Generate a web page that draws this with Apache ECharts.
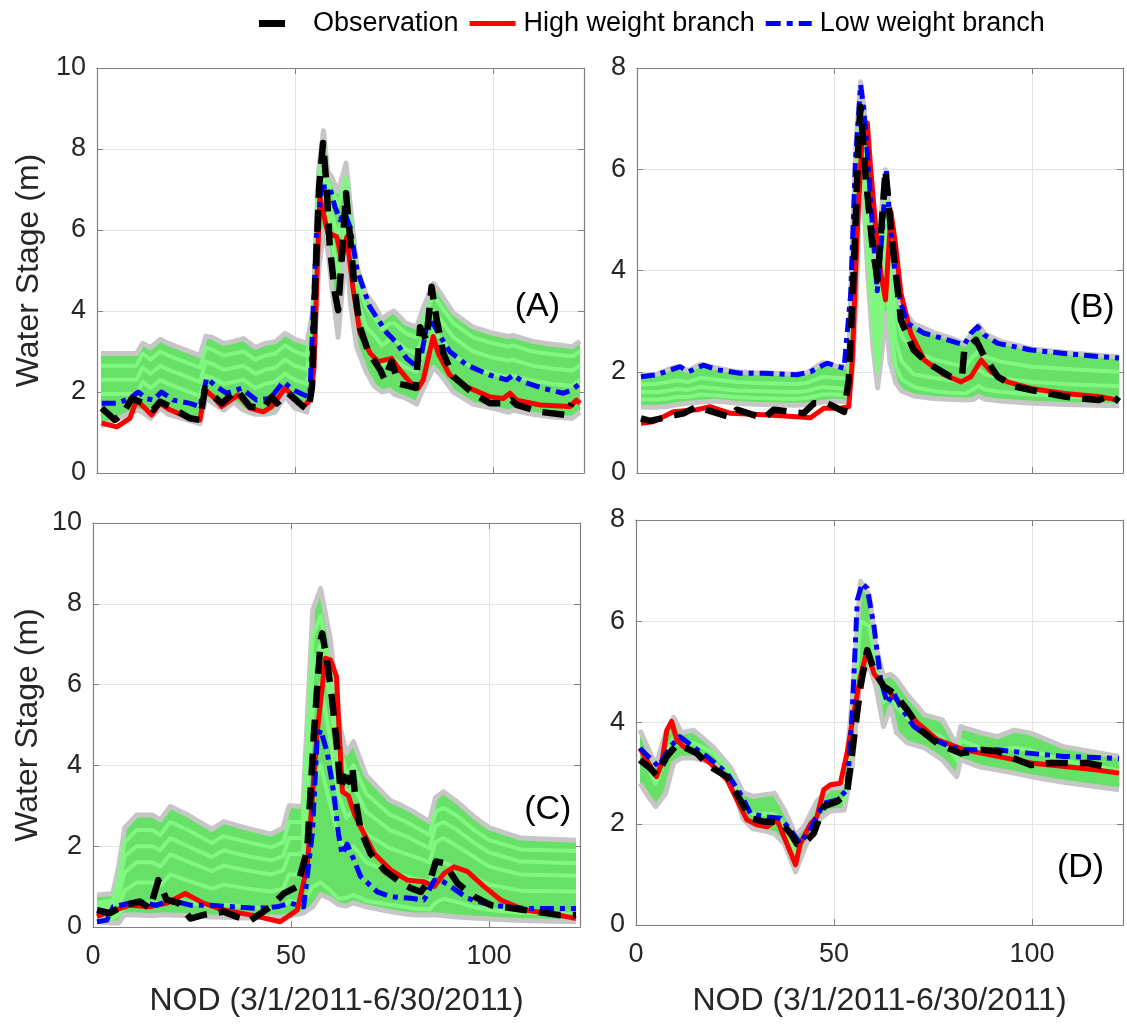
<!DOCTYPE html>
<html><head><meta charset="utf-8">
<script src="https://cdn.jsdelivr.net/npm/echarts@6/dist/echarts.min.js"></script>
<style>html,body{margin:0;padding:0;background:#fff}#c{width:1127px;height:1025px}</style>
</head><body><div id="c"></div>
<script>
// ---------- Panel A ----------
const bandXA = [1, 10, 11.5, 13.5, 16, 18, 26, 27.5, 29, 32, 34.5, 37, 40, 42.5, 45, 47.5, 50, 53, 54.5, 56, 57.2, 58.3, 59.3, 60.9, 62.9, 64, 65.6, 68, 70, 72, 74, 75, 78, 80.7, 82.5, 85, 87, 90, 95, 100, 104, 105, 110, 115, 120, 122];
const upperA = [2.95, 2.95, 3.2, 3.1, 3.3, 3.2, 2.9, 3.38, 3.35, 3.2, 3.25, 3.32, 3.1, 3.2, 3.24, 3.45, 3.3, 3.2, 4.0, 7.5, 8.45, 7.45, 7.3, 6.95, 7.65, 6.6, 5.1, 4.4, 4.15, 3.8, 3.95, 4.0, 3.7, 3.6, 4.1, 4.68, 4.4, 3.95, 3.6, 3.45, 3.37, 3.4, 3.25, 3.18, 3.12, 3.25];
const lowerA = [1.15, 1.55, 1.5, 1.35, 1.6, 1.45, 1.22, 1.85, 1.75, 1.55, 1.75, 1.55, 1.45, 1.45, 1.5, 1.9, 1.6, 1.5, 2.2, 5.0, 6.0, 5.5, 4.6, 3.35, 5.6, 4.2, 3.1, 2.5, 2.15, 2.0, 2.05, 1.95, 1.85, 1.7, 2.1, 2.6, 2.4, 2.0, 1.7, 1.6, 1.5, 1.55, 1.45, 1.38, 1.35, 1.5];
const ens1A = [2.65, 2.65, 2.95, 2.8, 3.0, 2.9, 2.6, 3.1, 3.05, 2.9, 2.95, 3.0, 2.8, 2.9, 2.95, 3.15, 3.0, 2.9, 3.8, 7.2, 8.1, 7.2, 7.0, 6.6, 7.3, 6.3, 4.8, 4.1, 3.85, 3.55, 3.7, 3.7, 3.45, 3.35, 3.8, 4.4, 4.1, 3.7, 3.35, 3.2, 3.12, 3.15, 3.0, 2.93, 2.88, 3.0];
const ens2A = [2.3, 2.3, 2.6, 2.45, 2.65, 2.55, 2.25, 2.75, 2.7, 2.55, 2.6, 2.65, 2.45, 2.55, 2.6, 2.8, 2.65, 2.55, 3.4, 6.6, 7.6, 6.8, 6.4, 5.8, 6.8, 5.7, 4.3, 3.6, 3.4, 3.15, 3.3, 3.3, 3.05, 2.95, 3.4, 4.0, 3.75, 3.35, 3.0, 2.85, 2.78, 2.8, 2.65, 2.58, 2.53, 2.65];
const ens3A = [1.95, 1.95, 2.25, 2.1, 2.3, 2.2, 1.9, 2.4, 2.35, 2.2, 2.25, 2.3, 2.1, 2.2, 2.25, 2.45, 2.3, 2.2, 2.9, 6.0, 7.0, 6.4, 5.8, 4.8, 6.3, 5.0, 3.8, 3.1, 2.85, 2.65, 2.8, 2.8, 2.6, 2.5, 2.95, 3.5, 3.3, 2.9, 2.6, 2.45, 2.38, 2.4, 2.28, 2.2, 2.15, 2.3];
const obsA = [[1.2,1.6],[4.5,1.31],[6.6,1.47],[8.8,1.84],[11.7,1.72],[14.2,1.56],[15.9,1.76],[18.4,1.64],[23.5,1.35],[26,1.31],[27.3,2.09],[31.5,1.72],[35.3,2.05],[38.6,1.64],[42,1.6],[44.1,1.88],[45.4,1.72],[48.3,1.97],[52.1,1.64],[53.4,1.56],[54.3,2.12],[55.1,4.6],[56.1,7.06],[57.1,8.15],[58,7.06],[58.8,5.58],[60.1,4.44],[60.9,4.02],[61.9,5.43],[62.9,6.91],[65.2,4.44],[66.4,3.6],[68.5,3.0],[71.5,2.55],[72.7,2.3],[74.4,2.75],[76.3,2.2],[77.8,2.17],[80.5,2.1],[81.6,3.6],[83.2,3.28],[84.5,4.6],[85.8,3.78],[87.5,2.95],[90,2.38],[95,1.97],[99.2,1.72],[103.5,1.72],[104.7,1.8],[106,1.68],[111.9,1.51],[118.6,1.43],[119.9,1.72]];
const highA = [[1.2,1.23],[5,1.14],[8.3,1.35],[10,1.8],[11.7,1.64],[13.8,1.43],[15.9,1.72],[18.4,1.56],[23.5,1.35],[26,1.31],[27.3,2.05],[29.4,1.88],[31.5,1.64],[35.7,1.93],[38.6,1.6],[42,1.51],[44.1,1.64],[47.5,2.09],[52.1,1.64],[53.8,1.8],[54.8,2.6],[55.6,5.0],[56.3,6.8],[58.3,5.93],[60.6,5.83],[61.8,5.26],[63.1,5.83],[64.6,4.6],[66.4,3.46],[69,2.96],[71,2.75],[74.4,2.83],[76.5,2.54],[79,2.25],[81.1,2.09],[82.4,2.3],[84.9,3.37],[86.2,2.95],[89.1,2.42],[93.3,2.13],[99.2,1.88],[102.6,1.84],[104.3,1.97],[106,1.8],[111.9,1.68],[119.4,1.64],[121.1,1.8],[122,1.72]];
const lowA = [[1.2,1.72],[5,1.72],[8.3,1.84],[10.4,2.0],[12.5,1.84],[14.2,1.8],[16.3,2.0],[19.3,1.8],[23.5,1.72],[26,1.64],[27.7,2.34],[30.2,2.13],[32.7,1.97],[36.5,2.09],[40.3,1.8],[43.7,1.84],[47.1,2.25],[49.6,2.05],[53.4,1.88],[53.8,1.95],[54.5,3.78],[55.5,6.0],[56.8,7.06],[58.8,7.06],[60.1,6.57],[61.4,6.25],[62.6,6.42],[63.9,6.07],[65.7,5.01],[68.9,4.1],[73.2,3.46],[75.8,3.2],[78.2,2.83],[80.7,2.63],[82,2.95],[83.2,3.6],[84.9,3.7],[86.2,3.45],[89.1,3.0],[93.3,2.67],[99.2,2.42],[103.5,2.3],[105.1,2.42],[107.7,2.25],[112.7,2.09],[117.8,1.97],[119.9,2.05],[122,2.21]];

// ---------- Panel B ----------
const bandXB = [1, 5, 8, 10, 13, 16, 20, 25, 30, 35, 40, 43, 47, 50, 53.5, 54.5, 55.5, 56.6, 57.5, 58.5, 59.7, 60.9, 62, 62.9, 64, 65.5, 67, 70, 75, 80, 83, 85, 86.5, 88, 92, 100, 110, 122];
const upperB = [1.92, 1.95, 2.05, 2.1, 2.02, 2.15, 2.08, 2.0, 1.98, 1.97, 1.95, 1.98, 2.18, 2.12, 2.1, 4.5, 6.6, 7.73, 7.2, 6.1, 4.9, 3.9, 5.3, 5.99, 5.0, 3.9, 3.25, 2.95, 2.78, 2.65, 2.55, 2.8, 2.92, 2.75, 2.6, 2.45, 2.37, 2.29];
const lowerB = [1.3, 1.3, 1.32, 1.35, 1.38, 1.4, 1.42, 1.38, 1.36, 1.35, 1.34, 1.35, 1.4, 1.42, 1.4, 2.0, 3.4, 6.2, 5.2, 3.8, 2.5, 1.68, 2.4, 3.16, 2.2, 1.78, 1.62, 1.52, 1.47, 1.45, 1.44, 1.45, 1.52, 1.46, 1.42, 1.38, 1.35, 1.33];
const ens1B = [1.75, 1.76, 1.8, 1.83, 1.8, 1.88, 1.84, 1.8, 1.78, 1.77, 1.76, 1.78, 1.9, 1.88, 1.86, 3.0, 5.5, 7.3, 6.6, 5.3, 4.0, 3.0, 4.6, 5.5, 4.3, 3.2, 2.7, 2.4, 2.25, 2.15, 2.1, 2.3, 2.4, 2.3, 2.2, 2.1, 2.05, 2.0];
const ens2B = [1.6, 1.6, 1.63, 1.66, 1.64, 1.7, 1.67, 1.63, 1.62, 1.61, 1.6, 1.62, 1.7, 1.68, 1.66, 2.6, 4.8, 6.9, 6.0, 4.7, 3.4, 2.4, 3.8, 4.8, 3.6, 2.6, 2.2, 1.95, 1.88, 1.82, 1.8, 1.95, 2.05, 1.95, 1.87, 1.8, 1.75, 1.72];
const ens3B = [1.45, 1.45, 1.47, 1.5, 1.5, 1.55, 1.53, 1.5, 1.48, 1.47, 1.46, 1.48, 1.55, 1.55, 1.53, 2.3, 4.1, 6.5, 5.6, 4.2, 2.9, 2.0, 3.1, 4.0, 2.9, 2.1, 1.85, 1.7, 1.62, 1.58, 1.57, 1.65, 1.72, 1.65, 1.6, 1.55, 1.5, 1.48];
const obsB = [[1,1.08],[3.3,1.03],[11.8,1.18],[15.1,1.31],[23.6,1.1],[25.3,1.25],[32.1,1.08],[34.6,1.25],[42.2,1.18],[44.8,1.38],[48.1,1.38],[52.4,1.21],[53.6,1.84],[54.9,4.08],[56.2,6.84],[56.6,7.23],[57.9,5.85],[59.6,4.47],[60.9,3.81],[62.9,5.99],[64.2,4.86],[65.5,3.95],[66.8,3.02],[70,2.43],[73.6,2.17],[79.4,1.9],[82.3,1.95],[82.8,2.4],[85.8,2.63],[87.9,2.3],[91.3,1.9],[95.5,1.71],[99.7,1.64],[108.2,1.51],[116.7,1.44],[120,1.54],[122,1.41]];
const highB = [[1,0.98],[4.1,1.01],[9.2,1.21],[15.1,1.25],[18.5,1.31],[23.6,1.18],[32.1,1.15],[40.5,1.11],[43.9,1.09],[47.3,1.28],[51.5,1.28],[53.6,1.31],[54.5,2.23],[55.8,4.87],[57,6.65],[58.3,6.91],[59.1,6.05],[60.4,4.87],[61.7,3.95],[62.9,3.42],[63.6,4.3],[64.3,5.15],[65.5,4.47],[66.8,3.55],[69.3,2.76],[72.7,2.23],[77.7,1.94],[82,1.8],[84.5,1.9],[87.1,2.23],[89.6,2.0],[93.8,1.8],[99.7,1.67],[108.2,1.57],[116.7,1.51],[122,1.44]];
const lowB = [[1,1.9],[5,1.94],[10.9,2.1],[13,2.0],[16.8,2.13],[20.2,2.04],[26.1,1.97],[32.1,1.97],[40.5,1.94],[43.9,2.0],[48.1,2.17],[52.4,2.07],[54.1,3.55],[55.3,6.19],[56.6,7.67],[57.4,7.17],[58.3,6.32],[59.6,4.87],[60.8,3.6],[62.1,4.8],[63.1,6.0],[64,5.0],[65.1,4.1],[66.8,3.35],[68.4,2.96],[72.7,2.76],[78.6,2.63],[82.8,2.53],[84.5,2.76],[86.2,2.89],[87.9,2.73],[91.3,2.56],[99.7,2.43],[108.2,2.36],[116.7,2.3],[122,2.27]];

// ---------- Panel C ----------
const bandXC = [1, 5, 6.5, 8, 11, 15, 17, 19.5, 24, 30, 33, 39, 45, 48, 49.5, 53, 55.5, 57.5, 60, 62, 64, 65.8, 69, 75, 78.5, 81, 85, 86.5, 88.5, 92, 96, 100, 108, 122];
const upperC = [0.79, 0.83, 1.5, 2.45, 2.77, 2.77, 2.65, 2.98, 2.77, 2.42, 2.61, 2.44, 2.3, 2.45, 3.0, 2.98, 7.85, 8.38, 7.1, 5.12, 4.3, 4.59, 3.75, 3.14, 2.98, 2.85, 2.61, 3.2, 3.35, 3.1, 2.75, 2.46, 2.2, 2.15];
const lowerC = [0.13, 0.1, 0.1, 0.3, 0.3, 0.28, 0.3, 0.3, 0.28, 0.25, 0.24, 0.22, 0.25, 0.25, 0.28, 0.34, 0.5, 0.8, 0.7, 0.55, 0.52, 0.6, 0.5, 0.38, 0.33, 0.3, 0.3, 0.3, 0.28, 0.25, 0.22, 0.2, 0.16, 0.13];
const ens1C = [0.6, 0.65, 1.2, 2.1, 2.4, 2.4, 2.28, 2.6, 2.4, 2.08, 2.25, 2.1, 1.97, 2.1, 2.6, 2.6, 7.2, 7.7, 6.3, 4.6, 3.8, 4.0, 3.3, 2.78, 2.63, 2.5, 2.28, 2.85, 2.95, 2.75, 2.42, 2.15, 1.92, 1.88];
const ens2C = [0.5, 0.55, 1.0, 1.75, 2.0, 2.0, 1.9, 2.2, 2.0, 1.73, 1.9, 1.75, 1.65, 1.75, 2.2, 2.2, 6.4, 7.0, 5.6, 4.0, 3.3, 3.5, 2.85, 2.4, 2.27, 2.15, 1.95, 2.5, 2.6, 2.4, 2.1, 1.85, 1.62, 1.58];
const ens3C = [0.4, 0.45, 0.8, 1.35, 1.6, 1.6, 1.5, 1.8, 1.62, 1.38, 1.52, 1.4, 1.3, 1.4, 1.8, 1.8, 5.4, 6.0, 4.6, 3.3, 2.7, 2.9, 2.3, 1.95, 1.83, 1.75, 1.6, 2.1, 2.2, 2.0, 1.75, 1.5, 1.3, 1.27];
const ens4C = [0.3, 0.3, 0.5, 0.9, 1.1, 1.1, 1.02, 1.3, 1.15, 0.95, 1.05, 0.95, 0.88, 0.95, 1.3, 1.3, 3.5, 4.0, 3.0, 2.2, 1.9, 2.0, 1.6, 1.35, 1.28, 1.2, 1.12, 1.5, 1.6, 1.45, 1.25, 1.05, 0.9, 0.88];
const ens5C = [0.2, 0.2, 0.3, 0.5, 0.6, 0.6, 0.55, 0.7, 0.62, 0.5, 0.55, 0.5, 0.45, 0.5, 0.65, 0.6, 1.0, 1.1, 0.9, 0.7, 0.72, 0.8, 0.65, 0.55, 0.5, 0.46, 0.44, 0.6, 0.7, 0.62, 0.5, 0.42, 0.35, 0.32];
const obsC = [[1,0.42],[4.3,0.34],[7.7,0.54],[11.9,0.63],[14.4,0.46],[16.5,1.16],[18.6,0.67],[21.5,0.6],[24.6,0.21],[27.9,0.3],[33,0.38],[36.4,0.25],[39.7,0.16],[44.8,0.5],[48.2,0.83],[51.6,1.0],[54.1,1.9],[55.8,4.79],[57.5,7.1],[57.9,7.27],[59.2,6.53],[60.4,5.62],[61.7,4.38],[62.5,3.39],[63.4,3.72],[64.6,3.6],[65.5,3.97],[66.3,3.14],[67.6,2.4],[70.1,1.82],[73.5,1.41],[76.9,1.16],[80.3,0.96],[82.8,0.87],[85.3,1.2],[86.6,1.62],[88.7,1.58],[92.1,1.08],[96.3,0.75],[100.5,0.54],[109,0.42],[117.4,0.3],[122,0.3]];
const highC = [[1,0.26],[4.3,0.38],[9.4,0.54],[14.4,0.5],[18.6,0.59],[23.3,0.83],[27.9,0.59],[33,0.42],[39.7,0.3],[47.3,0.13],[51.6,0.42],[54.1,1.49],[56.6,4.79],[58.7,6.65],[60,6.61],[61.5,6.2],[62.3,4.6],[63,3.35],[64.5,3.25],[66,2.8],[67.6,2.48],[71,1.82],[75.2,1.41],[79.4,1.16],[83.6,1.12],[86.2,1.0],[88.7,1.33],[91.2,1.49],[94.6,1.37],[98.8,1.0],[103,0.67],[109,0.42],[117.4,0.3],[122,0.21]];
const lowC = [[1,0.13],[3.5,0.17],[5.1,0.5],[11.1,0.63],[16.1,0.54],[19.5,0.67],[24.6,0.54],[29.6,0.54],[35.5,0.5],[41.4,0.46],[46.5,0.5],[49.9,0.59],[53.2,0.5],[55.4,2.32],[56.6,4.63],[57.5,4.88],[59.2,4.3],[60.8,3.31],[62,2.3],[62.9,1.8],[64.2,2.05],[65.9,1.66],[67.6,1.25],[71.8,0.87],[75.2,0.75],[80.3,0.71],[83.6,0.67],[86.2,1.16],[87.8,1.16],[90.4,1.0],[94.6,0.71],[100.5,0.54],[109,0.46],[122,0.46]];

// ---------- Panel D ----------
const bandXD = [1, 3, 5, 7.5, 9.5, 11.5, 14.5, 19.5, 24, 27, 29.5, 33, 35, 37.5, 40.3, 42.5, 45.7, 49, 52.6, 54.6, 56.7, 59, 60.6, 62.5, 64.3, 65.8, 68.5, 72.9, 77.4, 81, 82, 87, 91.3, 95.5, 99.7, 108, 122];
const upperD = [3.85, 3.5, 3.15, 3.8, 4.1, 3.8, 3.85, 3.52, 3.1, 2.62, 2.54, 2.58, 2.6, 2.27, 1.78, 1.95, 2.45, 2.7, 2.72, 4.45, 6.79, 6.5, 5.5, 4.91, 4.95, 4.85, 4.55, 4.15, 4.05, 3.55, 3.92, 3.8, 3.72, 3.85, 3.79, 3.52, 3.33];
const lowerD = [2.8, 2.55, 2.34, 2.6, 3.2, 3.3, 3.3, 3.2, 2.85, 2.1, 1.9, 1.85, 1.8, 1.6, 1.05, 1.5, 2.05, 2.25, 2.27, 3.13, 4.97, 5.1, 4.71, 3.92, 4.31, 3.8, 3.6, 3.5, 3.26, 2.93, 3.26, 3.12, 3.06, 3.0, 2.93, 2.82, 2.67];
const ens1D = [3.5, 3.1, 2.8, 3.3, 3.7, 3.6, 3.6, 3.4, 3.0, 2.4, 2.2, 2.2, 2.2, 1.95, 1.4, 1.75, 2.25, 2.45, 2.45, 3.8, 6.0, 5.9, 5.1, 4.4, 4.6, 4.3, 4.1, 3.85, 3.7, 3.25, 3.65, 3.5, 3.45, 3.5, 3.45, 3.25, 3.05];
const obsD = [[1,3.26],[3.5,3.1],[5.2,2.96],[7.8,3.33],[10.3,3.56],[12.8,3.49],[15.4,3.39],[18.7,3.13],[23,2.93],[26.3,2.47],[28.9,2.11],[32.2,2.04],[36.5,2.04],[39,1.81],[40.7,1.6],[42.4,1.61],[44.9,1.81],[47.4,2.34],[50.8,2.44],[53.3,2.6],[55,3.66],[56.7,4.71],[58.4,5.43],[60.1,5.04],[62.6,4.71],[65.1,4.58],[68.5,4.25],[71.9,3.85],[76.1,3.59],[82,3.39],[87.1,3.46],[91.3,3.43],[95.5,3.29],[99.7,3.16],[104.8,3.2],[108.2,3.2],[114.1,3.2],[120,3.1]];
const highD = [[1,3.49],[3.1,3.2],[5.2,2.93],[6.5,3.2],[7.8,3.85],[9,4.02],[10.3,3.66],[12,3.52],[15.4,3.39],[18.7,3.2],[23,2.87],[25.5,2.47],[28,2.08],[30.5,1.98],[33.1,1.94],[35.6,2.08],[38.1,1.61],[40.3,1.19],[41.5,1.61],[44.1,2.0],[45.7,2.14],[47.4,2.67],[49.1,2.77],[51.6,2.8],[53.3,3.39],[55,4.18],[56.7,4.91],[58.4,5.43],[60.1,4.97],[62.6,4.71],[65.1,4.51],[67.7,4.31],[71.1,3.99],[76.1,3.66],[82.9,3.46],[91.3,3.33],[99.7,3.2],[108.2,3.13],[116.6,3.06],[122,3.0]];
const lowD = [[1,3.49],[3.1,3.33],[5.7,3.13],[8.6,3.52],[11.1,3.72],[14.5,3.52],[17.9,3.33],[23,3.0],[26.3,2.6],[28.9,2.21],[32.2,2.14],[36.5,2.11],[39,1.88],[41.5,1.61],[44.1,1.91],[47.4,2.4],[50.8,2.47],[53.3,2.67],[54.6,4.18],[55.9,6.42],[57.1,6.75],[58.4,6.65],[60.1,5.9],[61.8,4.84],[63.5,4.38],[65.1,4.58],[66.8,4.31],[70.2,3.92],[74.4,3.69],[79.5,3.52],[82.9,3.46],[91.3,3.46],[99.7,3.39],[108.2,3.33],[122,3.29]];

// ---------- labels ----------
const legendNames = ['Observation', 'High weight branch', 'Low weight branch'];
const xTitle = 'NOD (3/1/2011-6/30/2011)';
const yTitle = 'Water Stage (m)';
const xTicks = [0, 50, 100];
const yTicksA = [0, 2, 4, 6, 8, 10];
const yTicksB = [0, 2, 4, 6, 8];
const panelTags = ['(A)', '(B)', '(C)', '(D)'];
const tagAt = [[105.5, 4.1], [109.4, 3.26], [108.9, 2.9], [106.3, 1.13]];

const FONT = '"Liberation Sans", Arial, Helvetica, sans-serif';
const GREEN = '#66e066', LIGHT = '#80f880', GRAY = '#c6c6c6';
const AXC = '#808080', TXT = '#262626';

const panels = [
  {grid:{left:97, top:68, width:487, height:405}, ymax:10, bx:bandXA, up:upperA, lo:lowerA, ens:[ens1A,ens2A,ens3A], obs:obsA, high:highA, low:lowA, xName:false, yName:true, yGap:52},
  {grid:{left:637, top:68, width:486, height:405}, ymax:8, bx:bandXB, up:upperB, lo:lowerB, ens:[ens1B,ens2B,ens3B], obs:obsB, high:highB, low:lowB, xName:false, yName:false},
  {grid:{left:93, top:523, width:487, height:404}, ymax:10, bx:bandXC, up:upperC, lo:lowerC, ens:[ens1C,ens2C,ens3C,ens4C,ens5C], obs:obsC, high:highC, low:lowC, xName:true, yName:true, yGap:49, xGap:58},
  {grid:{left:636, top:520, width:487, height:405}, ymax:8, bx:bandXD, up:upperD, lo:lowerD, ens:[ens1D], obs:obsD, high:highD, low:lowD, xName:true, yName:false, xGap:60}
];

const grids = [], xAxes = [], yAxes = [], series = [];
panels.forEach((p, i) => {
  grids.push(Object.assign({containLabel:false}, p.grid));
  const yt = p.ymax === 10 ? yTicksA : yTicksB;
  const tick = {show:true, inside:true, length:6, lineStyle:{color:AXC, width:1}};
  const line = {show:true, onZero:false, lineStyle:{color:AXC, width:1.2}};
  xAxes.push({gridIndex:i, type:'value', min:0, max:123, interval:50, position:'bottom',
    axisLine:line, axisTick:tick,
    axisLabel:{show:p.xName, fontSize:27, fontFamily:FONT, color:TXT, margin:16,
      formatter:v => xTicks.indexOf(v) >= 0 ? String(v) : ''},
    splitLine:{show:true, lineStyle:{color:'#e4e4e4', width:1}},
    name:p.xName ? xTitle : '', nameLocation:'middle', nameGap:p.xGap || 50,
    nameTextStyle:{fontSize:32, fontFamily:FONT, color:TXT}});
  xAxes.push({gridIndex:i, type:'value', min:0, max:123, interval:50, position:'top',
    axisLine:line, axisTick:tick, axisLabel:{show:false}, splitLine:{show:false}});
  yAxes.push({gridIndex:i, type:'value', min:0, max:p.ymax, interval:2, position:'left',
    axisLine:line, axisTick:tick,
    axisLabel:{show:true, fontSize:27, fontFamily:FONT, color:TXT, margin:11,
      formatter:v => yt.indexOf(v) >= 0 ? String(v) : ''},
    splitLine:{show:true, lineStyle:{color:'#e4e4e4', width:1}},
    name:p.yName ? yTitle : '', nameLocation:'middle', nameGap:p.yGap || 50, nameRotate:90,
    nameTextStyle:{fontSize:32, fontFamily:FONT, color:TXT}});
  yAxes.push({gridIndex:i, type:'value', min:0, max:p.ymax, interval:2, position:'right',
    axisLine:line, axisTick:tick, axisLabel:{show:false}, splitLine:{show:false}});

  const ax = {xAxisIndex:2*i, yAxisIndex:2*i, symbol:'none', silent:true, animation:false};
  // ensemble envelope polygon, placed through the axes' scales
  series.push({type:'custom', xAxisIndex:2*i, yAxisIndex:2*i, silent:true, z:1,
    data:p.bx.map((x, k) => [x, p.lo[k], p.up[k]]),
    encode:{x:0, y:[1, 2]},
    renderItem:(params, api) => {
      if (params.dataIndex !== 0) return null;
      const top = p.bx.map((x, k) => api.coord([x, p.up[k]]));
      const bot = p.bx.map((x, k) => api.coord([x, p.lo[k]])).reverse();
      return {type:'polygon', shape:{points:top.concat(bot)}, style:{fill:GREEN}};
    }});
  series.push(Object.assign({type:'line', data:p.bx.map((x, k) => [x, p.up[k]]),
    lineStyle:{color:GRAY, width:5, join:'round'}, z:2}, ax));
  series.push(Object.assign({type:'line', data:p.bx.map((x, k) => [x, p.lo[k]]),
    lineStyle:{color:GRAY, width:5, join:'round'}, z:2}, ax));
  p.ens.forEach(e => series.push(Object.assign({type:'line', data:p.bx.map((x, k) => [x, e[k]]),
    lineStyle:{color:LIGHT, width:4, join:'round'}, z:2}, ax)));
  series.push(Object.assign({type:'line', name:legendNames[1], data:p.high, itemStyle:{color:'#ff0000'},
    lineStyle:{color:'#ff0000', width:5, join:'round'}, z:3}, ax));
  series.push(Object.assign({type:'line', name:legendNames[2], data:p.low, itemStyle:{color:'#0000ff'},
    lineStyle:{color:'#0000ff', width:5, type:[14, 6, 5, 6], join:'round'}, z:4}, ax));
  series.push(Object.assign({type:'line', name:legendNames[0], data:p.obs, itemStyle:{color:'#000000'},
    lineStyle:{color:'#000000', width:6.5, type:[22, 12], join:'round'}, z:5}, ax));
  series.push({type:'scatter', xAxisIndex:2*i, yAxisIndex:2*i, data:[tagAt[i]], symbolSize:0.1,
    itemStyle:{color:'#ffffff', opacity:1}, silent:true, z:6, animation:false,
    label:{show:true, position:'right', distance:0, formatter:panelTags[i], fontSize:34, fontFamily:FONT, color:'#000000', opacity:1}});
});

const chart = echarts.init(document.getElementById('c'), null, {renderer:'canvas'});
chart.setOption({
  animation:false,
  backgroundColor:'#ffffff',
  textStyle:{fontFamily:FONT},
  legend:{top:5, left:254, itemWidth:46, itemHeight:7, itemGap:11, selectedMode:false,
    textStyle:{fontSize:27, fontFamily:FONT, color:'#000', padding:[0,0,0,3]},
    data:[
      {name:legendNames[0], icon:'path://M0,0h26v7h-26z M45.99,0h0.01v0.01h-0.01z', itemStyle:{color:'#000', borderWidth:0}},
      {name:legendNames[1], icon:'path://M0,1h46v5h-46z M0,0h0.01v0.01h-0.01z M45.99,6.99h0.01v0.01h-0.01z', itemStyle:{color:'#ff0000', borderWidth:0}},
      {name:legendNames[2], icon:'path://M0,1h15v5h-15z M21,1h6v5h-6z M33,1h13v5h-13z M0,0h0.01v0.01h-0.01z M45.99,6.99h0.01v0.01h-0.01z', itemStyle:{color:'#0000ff', borderWidth:0}}
    ]},
  grid:grids, xAxis:xAxes, yAxis:yAxes, series:series
});
</script>
</body></html>
